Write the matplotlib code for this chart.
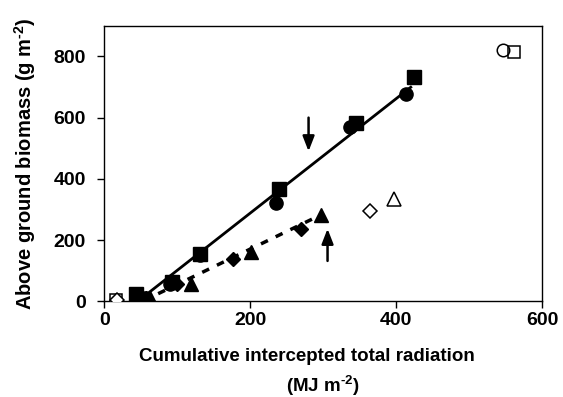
import numpy as np
import matplotlib
matplotlib.use("Agg")
import matplotlib.pyplot as plt

plt.rcParams["font.family"] = ["Liberation Sans", "DejaVu Sans"]
plt.rcParams["font.weight"] = "bold"
plt.rcParams["mathtext.fontset"] = "custom"
plt.rcParams["mathtext.rm"] = "Liberation Sans:bold"
plt.rcParams["mathtext.bf"] = "Liberation Sans:bold"
plt.rcParams["mathtext.it"] = "Liberation Sans:bold"

# ----------------- data ------------------------------------------------------
sq_x = [43, 93, 131, 239, 345, 425]
sq_y = [23, 63, 154, 367, 582, 732]
ci_x = [56, 90, 131, 235, 337, 414]
ci_y = [11, 58, 150, 320, 571, 678]
tri_x = [63, 119, 201, 297]
tri_y = [11, 56, 162, 282]
dia_x = [58, 100, 177, 270]
dia_y = [10, 58, 137, 235]

# open symbols
osq_x, osq_y = [16, 561], [3, 815]
oci_x, oci_y = [547], [821]
otri_x, otri_y = [18, 397], [2, 333]
odia_x, odia_y = [17, 364], [3, 296]

# regression lines (slope, intercept, x range)
solid_fit = (1.87, -86.0, 52, 420)
dashed_fit = (1.155, -60.5, 74, 287)

# arrows: x, y_tail, y_head
arrow_down = (280, 600, 490)
arrow_up = (306, 132, 237)


def main():
    fig = plt.figure(figsize=(5.63, 3.97), dpi=100)
    ax = fig.add_axes([0.185, 0.241, 0.778, 0.694])

    s, b, x0, x1 = solid_fit
    xs = np.array([x0, x1])
    ax.plot(xs, s * xs + b, color="black", lw=2, zorder=2)
    s, b, x0, x1 = dashed_fit
    xs = np.array([x0, x1])
    ax.plot(xs, s * xs + b, color="black", lw=2.5, ls=(0, (2.2, 2.5)), zorder=2)

    ax.plot(ci_x, ci_y, "o", color="black", ms=9.5, zorder=3)
    ax.plot(sq_x, sq_y, "s", color="black", ms=9.5, zorder=3)
    ax.plot(tri_x, tri_y, "^", color="black", ms=10.5, zorder=3)
    ax.plot(dia_x, dia_y, "D", color="black", ms=7, zorder=3)

    kw = dict(mfc="white", mec="black", mew=1.1, ls="none", zorder=4)
    ax.plot(osq_x, osq_y, "s", ms=8.5, **kw)
    ax.plot(oci_x, oci_y, "o", ms=9, mfc="none", mec="black", mew=1.1,
            ls="none", zorder=4)
    ax.plot(otri_x, otri_y, "^", ms=10.5, **kw)
    ax.plot(odia_x, odia_y, "D", ms=7, **kw)

    for x, yt, yh in (arrow_down, arrow_up):
        ax.annotate("", xy=(x, yh), xytext=(x, yt),
                    arrowprops=dict(arrowstyle="-|>,head_length=0.9,head_width=0.35",
                                    color="black", lw=1.8, shrinkA=0, shrinkB=0))

    ax.set_xlim(0, 600)
    ax.set_ylim(0, 900)
    ax.set_xticks([0, 200, 400, 600])
    ax.set_yticks([0, 200, 400, 600, 800])
    ax.tick_params(direction="out", length=5, width=1, labelsize=14)
    ax.tick_params(axis="y", pad=8)
    ax.tick_params(axis="x", pad=3)
    for lab in ax.get_xticklabels() + ax.get_yticklabels():
        lab.set_fontweight("bold")
    for sp in ax.spines.values():
        sp.set_linewidth(1)

    ax.set_ylabel("Above ground biomass (g m$^{\\text{-2}}$)", fontsize=14.5,
                  fontweight="bold")
    ax.yaxis.set_label_coords(-0.151, 0.5)
    fig.text(0.545, 0.091, "Cumulative intercepted total radiation",
             ha="center", va="baseline", fontsize=13.5, fontweight="bold")
    fig.text(0.573, 0.013, "(MJ m$^{\\text{-2}}$)",
             ha="center", va="baseline", fontsize=13.5, fontweight="bold")

    fig.savefig("out.png", dpi=100)


if __name__ == "__main__":
    main()
